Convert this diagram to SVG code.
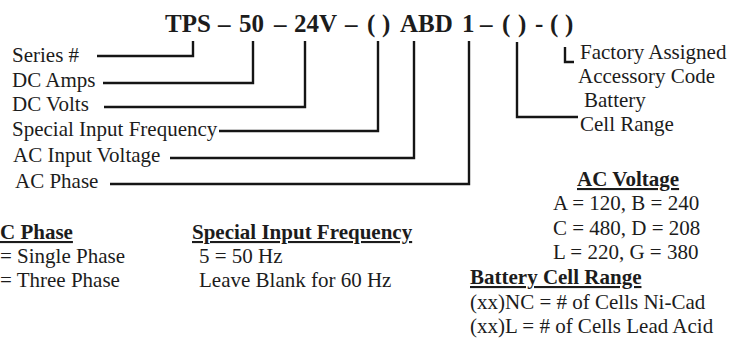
<svg xmlns="http://www.w3.org/2000/svg" width="730" height="341" viewBox="0 0 730 341">
<style>
text{font-family:"Liberation Serif","Times New Roman",serif;fill:#1c1c1c;font-size:21px}
.title{font-size:25px;font-weight:bold}
.h{font-weight:bold;text-decoration:underline}
.c{fill:none;stroke:#151515;stroke-width:2.4;stroke-linejoin:miter;stroke-linecap:butt}
</style>
<rect width="730" height="341" fill="#fff"/>
<g id="title">
<text class="title" y="32"><tspan x="165">TPS</tspan><tspan x="218">–</tspan><tspan x="239">50</tspan><tspan x="274">–</tspan><tspan x="294">24V</tspan><tspan x="345">–</tspan><tspan x="367">(</tspan><tspan x="382">)</tspan><tspan x="400">ABD</tspan><tspan x="462">1</tspan><tspan x="480">–</tspan><tspan x="502">(</tspan><tspan x="518">)</tspan><tspan x="535">-</tspan><tspan x="550">(</tspan><tspan x="565">)</tspan></text>
</g>
<g id="connectors">
<path class="c" d="M97,56 H193 V41"/>
<path class="c" d="M103,83 H253 V41"/>
<path class="c" d="M104,107 H305 V41"/>
<path class="c" d="M219,131 H378 V41"/>
<path class="c" d="M170,158 H414 V41"/>
<path class="c" d="M110,184 H469 V41"/>
<path class="c" d="M517,42 V117 H578"/>
<path class="c" d="M565,47 V62 H574"/>
</g>
<g id="series"><text x="12" y="62">Series #</text></g>
<g id="dc-amps"><text x="12" y="87">DC Amps</text></g>
<g id="dc-volts"><text x="12" y="111">DC Volts</text></g>
<g id="special-input-frequency"><text x="12" y="136">Special Input Frequency</text></g>
<g id="ac-input-voltage"><text x="13" y="162">AC Input Voltage</text></g>
<g id="ac-phase"><text x="15" y="188">AC Phase</text></g>
<g id="accessory-code"><text x="580" y="59">Factory Assigned</text><text x="578" y="83">Accessory Code</text></g>
<g id="battery"><text x="584" y="107">Battery</text><text x="580" y="131">Cell Range</text></g>
<g id="legend-ac-phase">
<text class="h" x="0" y="239">C Phase</text>
<text x="0" y="263">= Single Phase</text>
<text x="0" y="287">= Three Phase</text>
</g>
<g id="legend-frequency">
<text class="h" x="192" y="239">Special Input Frequency</text>
<text x="199" y="263">5 = 50 Hz</text>
<text x="199" y="287">Leave Blank for 60 Hz</text>
</g>
<g id="legend-ac-voltage">
<text class="h" x="577" y="186">AC Voltage</text>
<text x="553" y="210">A = 120, B = 240</text>
<text x="553" y="235">C = 480, D = 208</text>
<text x="553" y="259">L = 220, G = 380</text>
</g>
<g id="legend-battery">
<text class="h" x="470" y="284">Battery Cell Range</text>
<text x="470" y="309">(xx)NC = # of Cells Ni-Cad</text>
<text x="470" y="333">(xx)L = # of Cells Lead Acid</text>
</g>
</svg>
